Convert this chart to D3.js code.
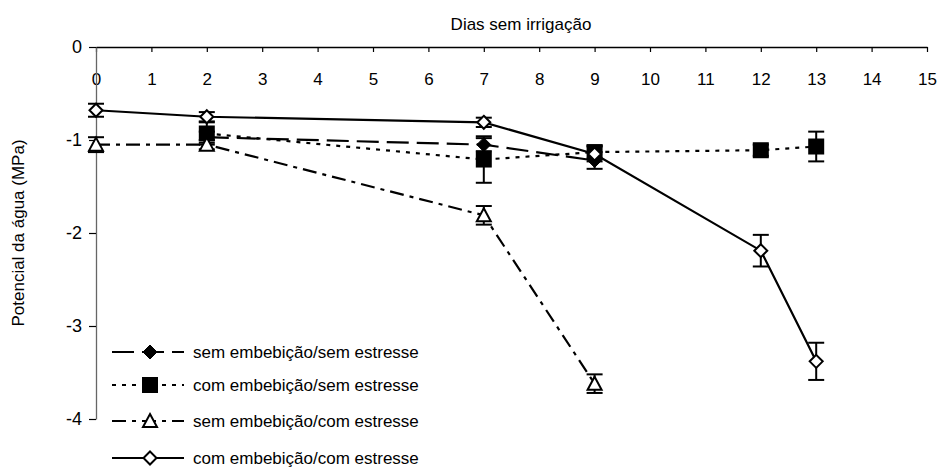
<!DOCTYPE html>
<html>
<head>
<meta charset="utf-8">
<script src="https://cdn.jsdelivr.net/npm/d3@7"></script>
<style>
  html, body { margin: 0; padding: 0; background: #fff; }
  svg { display: block; font-family: "Liberation Sans", Arial, sans-serif; }
</style>
</head>
<body>
<svg id="chart" width="943" height="472"></svg>
<script>
// Days without irrigation and leaf water potential (MPa) with error bars
const xTicks = [0,1,2,3,4,5,6,7,8,9,10,11,12,13,14,15];
const yTicks = [0,-1,-2,-3,-4];

const seriesNames = [
  "sem embebição/sem estresse",
  "com embebição/sem estresse",
  "sem embebição/com estresse",
  "com embebição/com estresse"
];

const semSemDays = [2, 7, 9];
const semSemValues = [-0.97, -1.05, -1.22];
const semSemErr = [0.06, 0.07, 0.09];

const comSemDays = [2, 7, 9, 12, 13];
const comSemValues = [-0.93, -1.21, -1.13, -1.11, -1.07];
const comSemErr = [0.12, 0.25, 0.07, 0.06, 0.16];

const semComDays = [0, 2, 7, 9];
const semComValues = [-1.05, -1.05, -1.81, -3.62];
const semComErr = [0.08, 0.05, 0.1, 0.1];

const comComDays = [0, 2, 7, 9, 12, 13];
const comComValues = [-0.68, -0.75, -0.81, -1.15, -2.19, -3.38];
const comComErr = [0.07, 0.05, 0.05, 0.08, 0.17, 0.2];

const svg = d3.select("#chart");
const x = d3.scaleLinear().domain([0, 15]).range([96, 927]);
const y = d3.scaleLinear().domain([-4, 0]).range([419, 47]);

// Axis title on top
svg.append("text").attr("x", 521).attr("y", 30)
  .attr("text-anchor", "middle").attr("font-size", 17).attr("fill", "#000")
  .text("Dias sem irrigação");

// X axis along the zero line, labels below
const xAxis = svg.append("g").attr("transform", `translate(0,${y(0)})`)
  .call(d3.axisBottom(x).tickValues(xTicks).tickSize(5).tickPadding(21).tickSizeOuter(0));
xAxis.select(".domain").attr("stroke", "#000").attr("stroke-width", 1.3);
xAxis.selectAll(".tick line").attr("stroke", "#000").attr("stroke-width", 1.2);
xAxis.selectAll("text").attr("font-size", 17).attr("font-family", "Liberation Sans, Arial, sans-serif").attr("fill", "#000");

// Y axis
const yAxis = svg.append("g").attr("transform", `translate(${x(0)},0)`)
  .call(d3.axisLeft(y).tickValues(yTicks).tickSize(7).tickPadding(7).tickSizeOuter(0));
yAxis.select(".domain").attr("stroke", "#666").attr("stroke-width", 1.3);
yAxis.selectAll(".tick line").attr("stroke", "#000").attr("stroke-width", 1.2);
yAxis.selectAll("text").attr("font-size", 18).attr("font-family", "Liberation Sans, Arial, sans-serif").attr("fill", "#000")
  .text(d => d === 0 ? "0" : "-" + Math.abs(d));

svg.append("text")
  .attr("transform", `translate(24,${(y(0) + y(-4)) / 2}) rotate(-90)`)
  .attr("text-anchor", "middle").attr("font-size", 17).attr("fill", "#000")
  .text("Potencial da água (MPa)");

const series = [
  { name: seriesNames[0], days: semSemDays, values: semSemValues, err: semSemErr, dash: "22,8", marker: "diamondFilled" },
  { name: seriesNames[1], days: comSemDays, values: comSemValues, err: comSemErr, dash: "4,6", marker: "square" },
  { name: seriesNames[2], days: semComDays, values: semComValues, err: semComErr, dash: "14,6,4,6", marker: "triangle" },
  { name: seriesNames[3], days: comComDays, values: comComValues, err: comComErr, dash: null, marker: "diamondOpen" }
];

const line = d3.line().x(d => x(d.day)).y(d => y(d.v));

function drawMarker(g, type, cx, cy) {
  if (type === "diamondFilled") {
    g.append("path").attr("d", "M0,-7L7,0L0,7L-7,0Z").attr("transform", `translate(${cx},${cy})`)
      .attr("fill", "#000").attr("stroke", "#000").attr("stroke-width", 1);
  } else if (type === "square") {
    g.append("rect").attr("x", cx - 8).attr("y", cy - 8).attr("width", 16).attr("height", 16).attr("fill", "#000");
  } else if (type === "triangle") {
    g.append("path").attr("d", "M0,-7L7,6L-7,6Z").attr("transform", `translate(${cx},${cy})`)
      .attr("fill", "#fff").attr("stroke", "#000").attr("stroke-width", 2);
  } else {
    g.append("path").attr("d", "M0,-6.5L6.5,0L0,6.5L-6.5,0Z").attr("transform", `translate(${cx},${cy})`)
      .attr("fill", "#fff").attr("stroke", "#000").attr("stroke-width", 2);
  }
}

series.forEach(s => {
  const pts = s.days.map((d, i) => ({ day: d, v: s.values[i], e: s.err[i] }));
  const g = svg.append("g");
  g.append("path").datum(pts).attr("d", line).attr("fill", "none").attr("stroke", "#000")
    .attr("stroke-width", 2.2).attr("stroke-dasharray", s.dash);
  pts.forEach(p => {
    const cx = x(p.day), top = y(p.v + p.e), bot = y(p.v - p.e);
    g.append("line").attr("x1", cx).attr("x2", cx).attr("y1", top).attr("y2", bot).attr("stroke", "#000").attr("stroke-width", 2);
    g.append("line").attr("x1", cx - 8).attr("x2", cx + 8).attr("y1", top).attr("y2", top).attr("stroke", "#000").attr("stroke-width", 2);
    g.append("line").attr("x1", cx - 8).attr("x2", cx + 8).attr("y1", bot).attr("y2", bot).attr("stroke", "#000").attr("stroke-width", 2);
  });
  pts.forEach(p => drawMarker(g, s.marker, x(p.day), y(p.v)));
});

// Legend
const legendY = [352, 385, 421, 458];
series.forEach((s, i) => {
  const g = svg.append("g");
  const ly = legendY[i];
  g.append("line").attr("x1", 112).attr("x2", 184).attr("y1", ly).attr("y2", ly)
    .attr("stroke", "#000").attr("stroke-width", 2.2).attr("stroke-dasharray", s.dash);
  drawMarker(g, s.marker, 150, ly);
  g.append("text").attr("x", 193).attr("y", ly + 6).attr("font-size", 17).attr("fill", "#000").text(s.name);
});
</script>
</body>
</html>
